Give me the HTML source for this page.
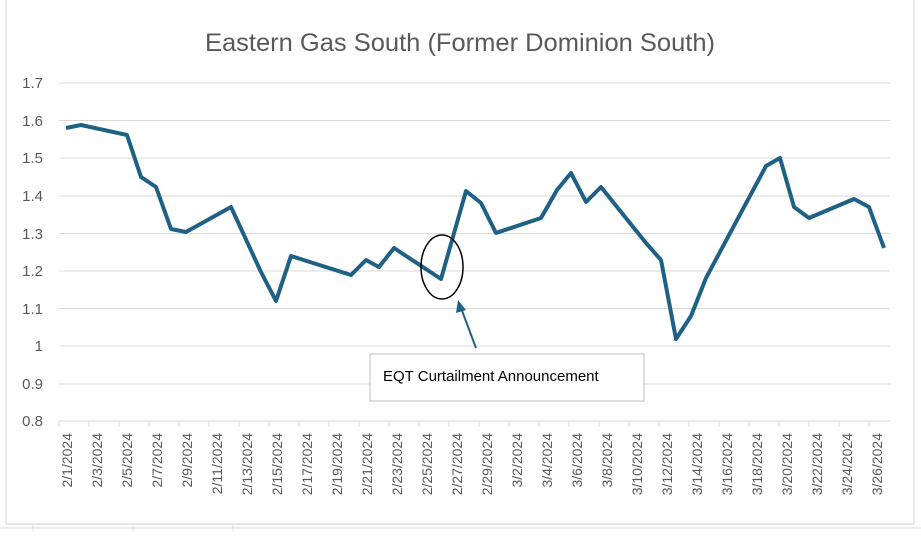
<!DOCTYPE html>
<html><head><style>
body{margin:0;width:921px;height:531px;overflow:hidden;background:#fff;font-family:"Liberation Sans",sans-serif}
</style></head><body>
<svg width="921" height="531" xmlns="http://www.w3.org/2000/svg" font-family="Liberation Sans, sans-serif">
<rect x="0" y="0" width="921" height="531" fill="#fff"/>
<line x1="0" y1="528" x2="921" y2="528" stroke="#d9d9d9"/>
<line x1="33" y1="525" x2="33" y2="531" stroke="#d9d9d9"/>
<line x1="133" y1="525" x2="133" y2="531" stroke="#d9d9d9"/>
<line x1="233" y1="525" x2="233" y2="531" stroke="#d9d9d9"/>
<rect x="6" y="-2" width="908" height="526" fill="#fff" stroke="#d0d0d0"/>
<text x="460" y="51" font-size="25" fill="#595959" text-anchor="middle" textLength="510" lengthAdjust="spacingAndGlyphs">Eastern Gas South (Former Dominion South)</text>
<g stroke="#d9d9d9" stroke-width="1">
<line x1="59" x2="890" y1="83" y2="83"/><line x1="59" x2="890" y1="120.5" y2="120.5"/>
<line x1="59" x2="890" y1="158" y2="158"/><line x1="59" x2="890" y1="196" y2="196"/>
<line x1="59" x2="890" y1="233.5" y2="233.5"/><line x1="59" x2="890" y1="271" y2="271"/>
<line x1="59" x2="890" y1="308.5" y2="308.5"/><line x1="59" x2="890" y1="346" y2="346"/>
<line x1="59" x2="890" y1="384" y2="384"/><line x1="59" x2="890" y1="421" y2="421"/>
</g>
<g font-size="15" fill="#595959" text-anchor="end">
<text x="43" y="88">1.7</text><text x="43" y="126">1.6</text><text x="43" y="163">1.5</text>
<text x="43" y="201">1.4</text><text x="43" y="239">1.3</text><text x="43" y="276">1.2</text>
<text x="43" y="314">1.1</text><text x="43" y="351">1</text><text x="43" y="389">0.9</text>
<text x="43" y="426">0.8</text>
</g>
<g stroke="#d9d9d9">
<line x1="59" x2="59" y1="421" y2="427"/><line x1="89" x2="89" y1="421" y2="427"/><line x1="119" x2="119" y1="421" y2="427"/><line x1="149" x2="149" y1="421" y2="427"/><line x1="179" x2="179" y1="421" y2="427"/><line x1="209" x2="209" y1="421" y2="427"/><line x1="239" x2="239" y1="421" y2="427"/><line x1="269" x2="269" y1="421" y2="427"/><line x1="299" x2="299" y1="421" y2="427"/><line x1="329" x2="329" y1="421" y2="427"/><line x1="359" x2="359" y1="421" y2="427"/><line x1="389" x2="389" y1="421" y2="427"/><line x1="419" x2="419" y1="421" y2="427"/><line x1="449" x2="449" y1="421" y2="427"/><line x1="479" x2="479" y1="421" y2="427"/><line x1="509" x2="509" y1="421" y2="427"/><line x1="539" x2="539" y1="421" y2="427"/><line x1="569" x2="569" y1="421" y2="427"/><line x1="599" x2="599" y1="421" y2="427"/><line x1="629" x2="629" y1="421" y2="427"/><line x1="659" x2="659" y1="421" y2="427"/><line x1="689" x2="689" y1="421" y2="427"/><line x1="719" x2="719" y1="421" y2="427"/><line x1="749" x2="749" y1="421" y2="427"/><line x1="779" x2="779" y1="421" y2="427"/><line x1="809" x2="809" y1="421" y2="427"/><line x1="839" x2="839" y1="421" y2="427"/><line x1="869" x2="869" y1="421" y2="427"/>
</g>
<g font-size="14" fill="#595959" text-anchor="end">
<text transform="translate(72,433) rotate(-90)">2/1/2024</text>
<text transform="translate(102,433) rotate(-90)">2/3/2024</text>
<text transform="translate(132,433) rotate(-90)">2/5/2024</text>
<text transform="translate(162,433) rotate(-90)">2/7/2024</text>
<text transform="translate(192,433) rotate(-90)">2/9/2024</text>
<text transform="translate(222,433) rotate(-90)">2/11/2024</text>
<text transform="translate(252,433) rotate(-90)">2/13/2024</text>
<text transform="translate(282,433) rotate(-90)">2/15/2024</text>
<text transform="translate(312,433) rotate(-90)">2/17/2024</text>
<text transform="translate(342,433) rotate(-90)">2/19/2024</text>
<text transform="translate(372,433) rotate(-90)">2/21/2024</text>
<text transform="translate(402,433) rotate(-90)">2/23/2024</text>
<text transform="translate(432,433) rotate(-90)">2/25/2024</text>
<text transform="translate(462,433) rotate(-90)">2/27/2024</text>
<text transform="translate(492,433) rotate(-90)">2/29/2024</text>
<text transform="translate(522,433) rotate(-90)">3/2/2024</text>
<text transform="translate(552,433) rotate(-90)">3/4/2024</text>
<text transform="translate(582,433) rotate(-90)">3/6/2024</text>
<text transform="translate(612,433) rotate(-90)">3/8/2024</text>
<text transform="translate(642,433) rotate(-90)">3/10/2024</text>
<text transform="translate(672,433) rotate(-90)">3/12/2024</text>
<text transform="translate(702,433) rotate(-90)">3/14/2024</text>
<text transform="translate(732,433) rotate(-90)">3/16/2024</text>
<text transform="translate(762,433) rotate(-90)">3/18/2024</text>
<text transform="translate(792,433) rotate(-90)">3/20/2024</text>
<text transform="translate(822,433) rotate(-90)">3/22/2024</text>
<text transform="translate(852,433) rotate(-90)">3/24/2024</text>
<text transform="translate(882,433) rotate(-90)">3/26/2024</text>
</g>
<polyline fill="none" stroke="#1f6184" stroke-width="4" stroke-linejoin="round" points="66,128 81,125 127,135 141,177 156,187 171,229 186,232 231,207 261,272 276,301 291,256 351,275 366,260 379,267 394,248 441,279 466,191 481,203 496,233 541,218 557,190 571,173 586,202 601,187 646,243 661,260 676,339 691,316 706,278 766,166 780,158 794,207 809,218 854,199 869,207 884,248"/>
<ellipse cx="442" cy="267" rx="21" ry="32" fill="none" stroke="#000" stroke-width="1.5"/>
<line x1="476" y1="348" x2="461" y2="308" stroke="#1f6184" stroke-width="2"/>
<polygon points="458,300 456,313 466,310" fill="#1f6184"/>
<rect x="370" y="354" width="274" height="47" fill="#fff" stroke="#bfbfbf"/>
<text x="383" y="381" font-size="15" fill="#000">EQT Curtailment Announcement</text>
</svg>
</body></html>
